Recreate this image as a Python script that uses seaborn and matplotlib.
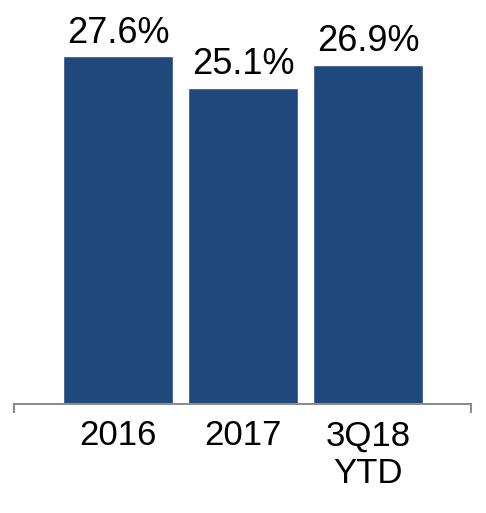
import matplotlib.pyplot as plt
import seaborn as sns
import pandas as pd

categories = ["2016", "2017", "3Q18\nYTD"]
values = [27.6, 25.1, 26.9]
labels = ["27.6%", "25.1%", "26.9%"]

df = pd.DataFrame({"period": categories, "value": values})

sns.set_style("white")
plt.rcParams['font.family'] = ['Liberation Sans', 'DejaVu Sans']
plt.rcParams['text.color'] = 'black'
plt.rcParams['xtick.color'] = 'black'

fig = plt.figure(figsize=(4.86, 5.13), dpi=100)
ax = fig.add_axes([14 / 486, 109 / 513, 457 / 486, 404 / 513])

sns.barplot(data=df, x="period", y="value", color="#1F497D", saturation=1,
            width=0.88, ax=ax)

# value labels above bars
for container in ax.containers:
    ax.bar_label(container, labels=labels, fontsize=26, padding=4, color='black')

ax.set_xlim(-0.832, 2.824)
ax.set_ylim(0, 32.06)

sns.despine(ax=ax, left=True)
ax.spines['bottom'].set_color('#8C8C8C')
ax.spines['bottom'].set_linewidth(1.5)
ax.set_yticks([])
ax.set_xlabel("")
ax.set_ylabel("")

ax.tick_params(axis='x', which='major', length=0, pad=11, labelsize=25,
               labelcolor='black')
for t in ax.get_xticklabels():
    t.set_linespacing(1.2)
ax.set_xticks([-0.832, 2.824], minor=True)
ax.tick_params(axis='x', which='minor', bottom=True, length=6.5, width=1.5,
               color='#8C8C8C', direction='out')

fig.savefig("out.png", dpi=100)
